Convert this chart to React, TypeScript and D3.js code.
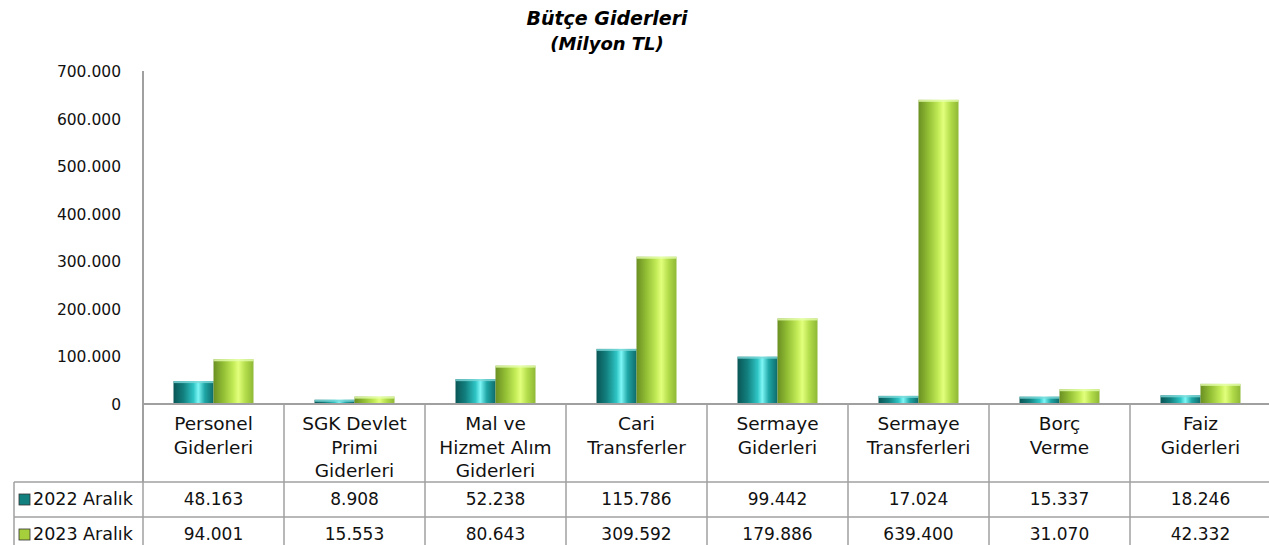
import React from 'react';
import * as d3 from 'd3';

const categories = [
  ['Personel', 'Giderleri'],
  ['SGK Devlet', 'Primi', 'Giderleri'],
  ['Mal ve', 'Hizmet Alım', 'Giderleri'],
  ['Cari', 'Transferler'],
  ['Sermaye', 'Giderleri'],
  ['Sermaye', 'Transferleri'],
  ['Borç', 'Verme'],
  ['Faiz', 'Giderleri'],
];
const series = ['2022 Aralık', '2023 Aralık'];
const values2022 = [48163, 8908, 52238, 115786, 99442, 17024, 15337, 18246];
const values2023 = [94001, 15553, 80643, 309592, 179886, 639400, 31070, 42332];
const yTicks = [0, 100000, 200000, 300000, 400000, 500000, 600000, 700000];

const W = 1269;
const H = 545;
const left = 143;
const right = 1271;
const top = 71;
const bottom = 404;
const rowTop = 482;
const rowH = 35;
const font = '"DejaVu Sans", sans-serif';

const trFormat = d3.formatLocale({ decimal: ',', thousands: '.', grouping: [3], currency: ['', ''] }).format(',d');

export default function App() {
  const keys = categories.map((_, i) => String(i));
  const x = d3.scaleBand().domain(keys).range([left, right]);
  const y = d3.scaleLinear().domain([0, 700000]).range([bottom, top]);
  const inner = d3.scaleBand().domain(series).range([0, 80]);
  const data = [values2022, values2023];
  const fills = ['url(#gTeal)', 'url(#gGreen)'];
  const caps = ['#7fd9d9', '#e6ffb0'];
  const swatch = ['#138080', '#a6cf3c'];
  const cx = (i: number) => (x(String(i)) as number) + x.bandwidth() / 2;

  return (
    <svg width={W} height={H} style={{ position: 'absolute', left: 0, top: 0, background: '#fff' }} fontFamily={font}>
      <defs>
        <linearGradient id="gTeal" x1="0" x2="1" y1="0" y2="0">
          <stop offset="0%" stopColor="#0a5656" />
          <stop offset="25%" stopColor="#12807f" />
          <stop offset="50%" stopColor="#2fc4c4" />
          <stop offset="62%" stopColor="#7ef6f6" />
          <stop offset="78%" stopColor="#1fa6a6" />
          <stop offset="100%" stopColor="#0f6b6b" />
        </linearGradient>
        <linearGradient id="gGreen" x1="0" x2="1" y1="0" y2="0">
          <stop offset="0%" stopColor="#6a8f22" />
          <stop offset="25%" stopColor="#93bf35" />
          <stop offset="50%" stopColor="#c4ec58" />
          <stop offset="62%" stopColor="#e2ff7c" />
          <stop offset="80%" stopColor="#b2dc4a" />
          <stop offset="100%" stopColor="#8fb836" />
        </linearGradient>
      </defs>

      <text x={607} y={25} textAnchor="middle" fontSize={19} fontWeight="bold" fontStyle="italic">Bütçe Giderleri</text>
      <text x={607} y={50} textAnchor="middle" fontSize={18} fontWeight="bold" fontStyle="italic">(Milyon TL)</text>

      {yTicks.map((t) => (
        <text key={t} x={121} y={y(t) + 6} textAnchor="end" fontSize={15.5} fill="#111">{trFormat(t)}</text>
      ))}

      {data.map((vals, s) =>
        vals.map((v, i) => {
          const bx = (x(String(i)) as number) + (x.bandwidth() - 80) / 2 + (inner(series[s]) as number);
          const by = y(v);
          const bh = bottom - by;
          return (
            <g key={`${s}-${i}`}>
              <rect x={bx} y={by} width={inner.bandwidth()} height={bh} fill={fills[s]} />
              <rect x={bx} y={by} width={inner.bandwidth()} height={Math.min(2, bh)} fill={caps[s]} opacity={0.8} />
            </g>
          );
        })
      )}

      {/* axis and table grid */}
      <line x1={left} x2={left} y1={top} y2={rowTop} stroke="#a0a0a0" strokeWidth={2} />
      <line x1={left} x2={W} y1={bottom} y2={bottom} stroke="#a0a0a0" strokeWidth={2} />
      <line x1={14} x2={W} y1={rowTop} y2={rowTop} stroke="#a0a0a0" strokeWidth={1.5} />
      <line x1={14} x2={W} y1={rowTop + rowH} y2={rowTop + rowH} stroke="#a0a0a0" strokeWidth={1.5} />
      <line x1={14} x2={14} y1={rowTop} y2={H} stroke="#a0a0a0" strokeWidth={1.5} />
      <line x1={left} x2={left} y1={rowTop} y2={H} stroke="#a0a0a0" strokeWidth={1.5} />
      {keys.map((k) => (
        <line key={k} x1={(x(k) as number) + x.bandwidth()} x2={(x(k) as number) + x.bandwidth()} y1={bottom} y2={H} stroke="#a0a0a0" strokeWidth={1.5} />
      ))}

      {categories.map((lines, i) => (
        <text key={i} textAnchor="middle" fontSize={18.5} fill="#111">
          {lines.map((ln, j) => (
            <tspan key={j} x={cx(i)} y={430 + j * 23.5}>{ln}</tspan>
          ))}
        </text>
      ))}

      {series.map((s, r) => (
        <g key={s}>
          <rect x={19} y={rowTop + r * rowH + 12} width={11} height={11} fill={swatch[r]} stroke="#333" strokeWidth={0.8} />
          <text x={33} y={rowTop + r * rowH + 23} fontSize={17.5} fill="#111">{s}</text>
          {data[r].map((v, i) => (
            <text key={i} x={cx(i)} y={rowTop + r * rowH + 23} textAnchor="middle" fontSize={17} fill="#111">{trFormat(v)}</text>
          ))}
        </g>
      ))}
    </svg>
  );
}
